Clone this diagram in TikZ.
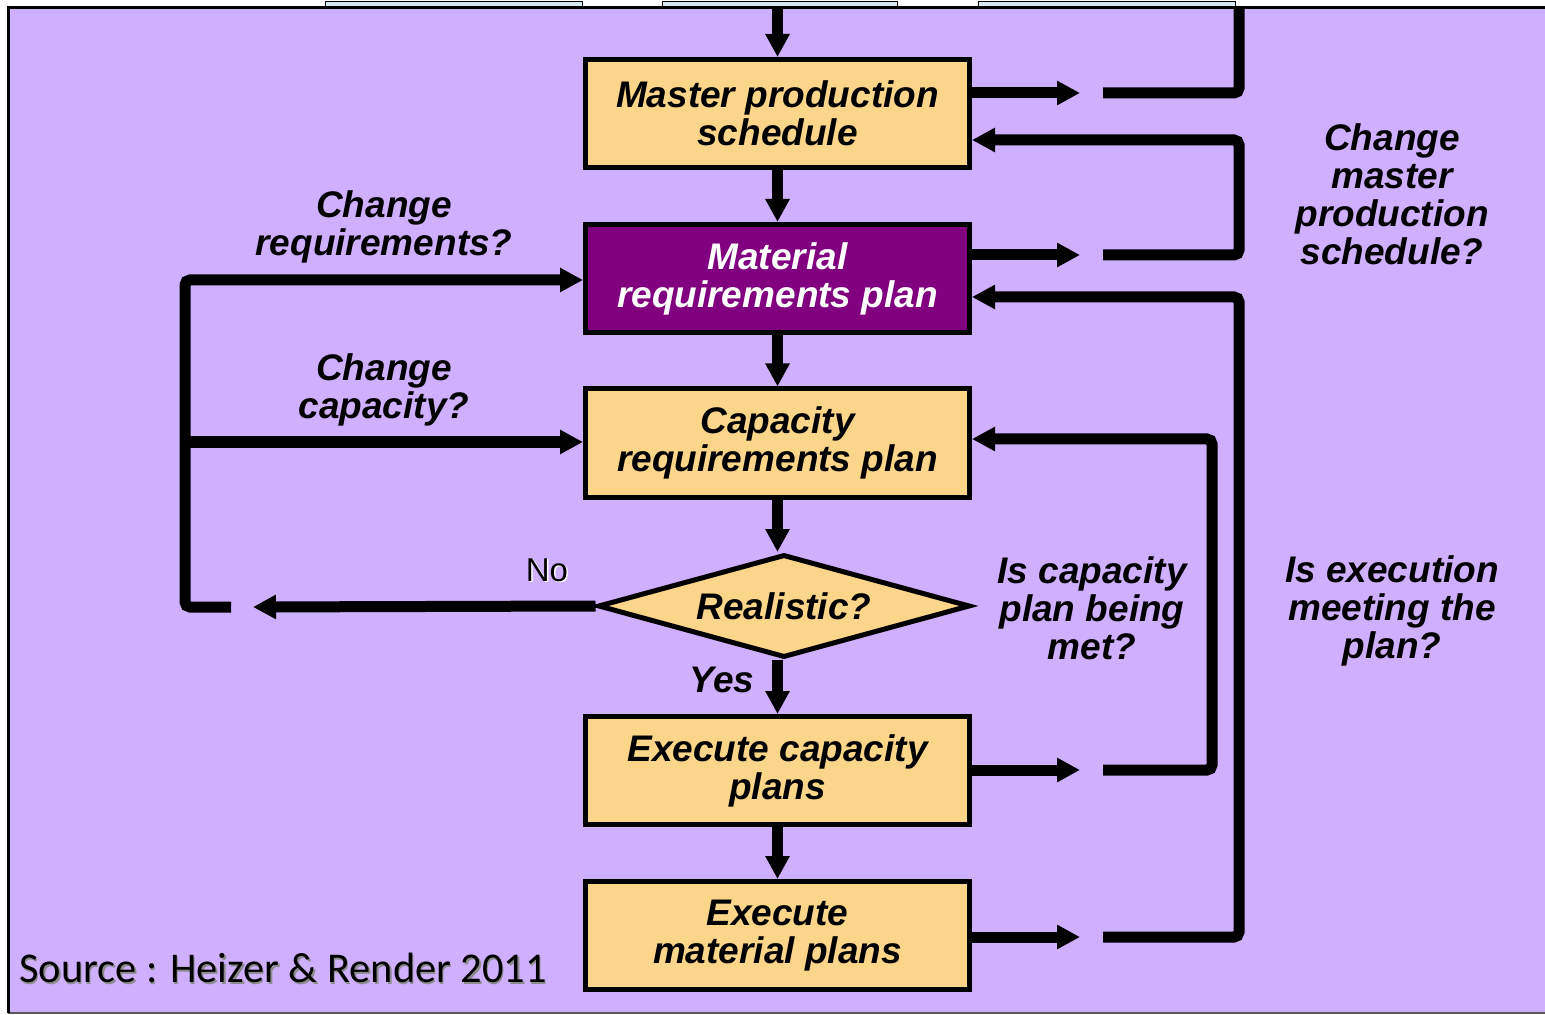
\documentclass[tikz,border=0pt]{standalone}
\usepackage{fontspec}
\setmainfont{Liberation Sans}
\newfontfamily\srcfont{Carlito}
\usetikzlibrary{arrows.meta,shapes.geometric}

\definecolor{panel}{RGB}{207,176,255}
\definecolor{boxfill}{RGB}{251,214,138}
\definecolor{mrpfill}{RGB}{128,0,128}
\definecolor{tabfill}{RGB}{214,234,242}

\begin{document}
\begin{tikzpicture}[x=0.5pt,y=-0.5pt,
  boxfont/.style={font={\fontsize{18.5}{19}\selectfont\bfseries\itshape}},
  flowbox/.style={boxfont, draw=black, line width=2.5pt, fill=boxfill,
    minimum width=192pt, minimum height=54pt, inner sep=0pt, align=center},
  decision/.style={boxfont, diamond, shape aspect=3.5, draw=black, line width=2.5pt,
    fill=boxfill, minimum width=186pt, minimum height=51.5pt, inner sep=0pt},
  lbl/.style={boxfont, align=center, inner sep=0pt},
  conn/.style={line width=5.5pt, rounded corners=2.5pt,
    -{Triangle[length=11.5pt,width=11.5pt]}},
  plain/.style={line width=5.5pt, rounded corners=2.5pt},
  tab/.style={draw=black, line width=0.5pt, fill=tabfill}
]
\useasboundingbox (0,0) rectangle (1545,1015);

% background panel with its tabs
\draw[tab] (325,2) rectangle (582,8);
\draw[tab] (662,2) rectangle (897,8);
\draw[tab] (978,2) rectangle (1235,8);
\fill[panel] (8,8) rectangle (1545,1013);
\draw[gray!70!black, line width=0.6pt] (8,1013) -- (1545,1013);
\draw[line width=1.5pt] (8,1013) -- (8,8) -- (1545,8);

% process steps
\node[flowbox] (mps) at (777.5,113.5) {Master production\\schedule};
\node[flowbox, fill=mrpfill, text=white] (mrp) at (777.5,278.5) {Material\\requirements plan};
\node[flowbox] (crp) at (777.5,443) {Capacity\\requirements plan};
\node[decision] (dia) at (784,606) {Realistic?};
\node[flowbox] (ecp) at (777.5,770.5) {Execute capacity\\plans};
\node[flowbox] (emp) at (777.5,935.5) {Execute\\material plans};

% main downward flow
\coordinate (topin) at (777.5,8);
\draw[conn] (topin) -- (mps.north);
\draw[conn] (mps.south) -- (mrp.north);
\draw[conn] (mrp.south) -- (crp.north);
\draw[conn] (crp.south) -- (crp.south |- dia.north);
\draw[conn] (ecp.north |- dia.south) -- (ecp.north);
\draw[conn] (ecp.south) -- (emp.north);

% "No" branch and the loop back on the left
\coordinate (noend) at (253,607);
\coordinate (loopstart) at (231,607);
\coordinate (loopcorner) at (185,607);
\draw[conn] (dia.west) -- (noend);
\draw[conn] (loopstart) -- (loopcorner) -- (185,280) -- (mrp.west |- 0,280);
\draw[conn] (185,442) -- (crp.west |- 0,442);

% feedback loops on the right
\coordinate (mpsout) at (1080,93);
\coordinate (mpsback) at (1103,93);
\draw[conn] (mps.east |- mpsout) -- (mpsout);
\draw[plain] (mpsback) -- (1239,93) -- (1239,8);

\coordinate (mrpout) at (1080,255);
\coordinate (mrpback) at (1103,255);
\draw[conn] (mrp.east |- mrpout) -- (mrpout);
\draw[conn] (mrpback) -- (1239,255) -- (1239,140) -- (mps.east |- 0,140);

\coordinate (ecpout) at (1080,770);
\coordinate (ecpback) at (1103,770);
\draw[conn] (ecp.east |- ecpout) -- (ecpout);
\draw[conn] (ecpback) -- (1212,770) -- (1212,439) -- (crp.east |- 0,439);

\coordinate (empout) at (1080,937);
\coordinate (empback) at (1103,937);
\draw[conn] (emp.east |- empout) -- (empout);
\draw[conn] (empback) -- (1239,937) -- (1239,297) -- (mrp.east |- 0,297);

% questions along the loops
\node[lbl] (qreq) at (384,227) {Change\\requirements?};
\node[lbl] (qcap) at (384,390) {Change\\capacity?};
\node[lbl] (qmps) at (1392,194) {Change\\master\\production\\schedule?};
\node[lbl] (qcpm) at (1092,608) {Is capacity\\plan being\\met?};
\node[lbl] (qexe) at (1392,611) {Is execution\\meeting the\\plan?};
\node[lbl] (yes) at (722,680) {Yes};
\node[font={\fontsize{16.5}{19}\selectfont}, text=white, inner sep=0pt] at (548.5,571.5) {No};
\node[font={\fontsize{16.5}{19}\selectfont}, inner sep=0pt] (no) at (547,570) {No};

% source line
\node[font={\srcfont\fontsize{21.2}{24}\selectfont}, text=black!45, anchor=west, inner sep=0pt] at (20.5,969.5) {Source : Heizer \& Render 2011};
\node[font={\srcfont\fontsize{21.2}{24}\selectfont}, anchor=west, inner sep=0pt] (src) at (19,968) {Source : Heizer \& Render 2011};
\end{tikzpicture}
\end{document}
